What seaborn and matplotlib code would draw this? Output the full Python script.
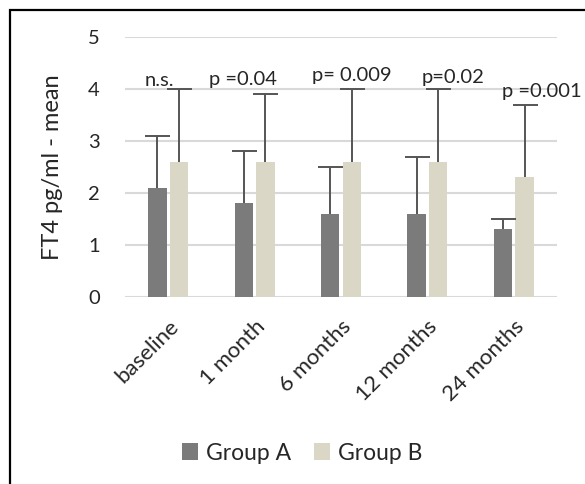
import numpy as np
import pandas as pd
import seaborn as sns
import matplotlib.pyplot as plt
from matplotlib.patches import Rectangle

# data
timepoints = ['baseline', '1 month', '6 months', '12 months', '24 months']
groups = ['Group A', 'Group B']
mean_a = [2.1, 1.8, 1.6, 1.6, 1.3]
mean_b = [2.6, 2.6, 2.6, 2.6, 2.3]
err_a = [1.0, 1.0, 0.9, 1.1, 0.2]
err_b = [1.4, 1.3, 1.4, 1.4, 1.4]
p_labels = ['n.s.', 'p =0.04', 'p= 0.009', 'p=0.02', 'p =0.001']
p_x = [-0.10, 0.87, 2.13, 3.30, 4.32]
p_y = [4.06, 4.08, 4.15, 4.12, 3.85]

colors = ['#7b7b7b', '#ddd9c4']

df = pd.DataFrame({
    'time': timepoints * 2,
    'group': [groups[0]] * 5 + [groups[1]] * 5,
    'mean': mean_a + mean_b,
    'err': err_a + err_b,
})

sns.set_style('white')
plt.rcParams['font.family'] = ['Lato', 'DejaVu Sans']
txt = '#262626'

fig = plt.figure(figsize=(5.85, 4.84), dpi=100)
ax = fig.add_axes([0.2137, 0.3864, 0.7385, 0.5372])

sns.barplot(data=df, x='time', y='mean', hue='group', palette=colors,
            width=0.5, gap=0.15, errorbar=None, ax=ax, zorder=2,
            linewidth=0)

# one-sided error bars on top of each bar (lower cap hidden)
for container, g in zip(ax.containers, groups):
    sub = df[df['group'] == g]
    xs = [b.get_x() + b.get_width() / 2 for b in container]
    eb = ax.errorbar(xs, sub['mean'], yerr=[np.zeros(len(sub)), sub['err']],
                     fmt='none', ecolor='#555555', elinewidth=1.4, capsize=9,
                     capthick=1.4, zorder=3)
    eb[1][0].set_visible(False)

for x, y, lab in zip(p_x, p_y, p_labels):
    ax.text(x, y, lab, ha='center', va='baseline', fontsize=14.5,
            color=txt, clip_on=False)

ax.set_ylim(0, 5)
ax.set_xlim(-0.5, 4.5)
ax.set_yticks(range(6))
ax.yaxis.grid(True, color='#d9d9d9', lw=1.5)
ax.set_axisbelow(True)
for s in ax.spines.values():
    s.set_visible(False)
ax.tick_params(axis='both', length=0, colors=txt)
ax.tick_params(axis='y', pad=18, labelsize=14.5)
ax.tick_params(axis='x', pad=14, labelsize=16)
plt.setp(ax.get_xticklabels(), rotation=45, ha='right', rotation_mode='anchor')
ax.set_xlabel('')
ax.set_ylabel('FT4 pg/ml - mean', fontsize=17, color=txt)
ax.yaxis.set_label_coords(-0.1435, 0.5)

ax.legend(loc='center', bbox_to_anchor=(0.516, 0.064),
          bbox_transform=fig.transFigure, ncol=2, frameon=False,
          fontsize=16.5, handlelength=0.7, handleheight=0.7,
          handletextpad=0.35, columnspacing=1.0, borderaxespad=0)

fig.patches.append(Rectangle((10 / 585, -0.1), 1.2, 1 - 10 / 484 + 0.1,
                             transform=fig.transFigure, fill=False,
                             edgecolor='black', lw=1.6))

fig.savefig('out.png', dpi=100)
